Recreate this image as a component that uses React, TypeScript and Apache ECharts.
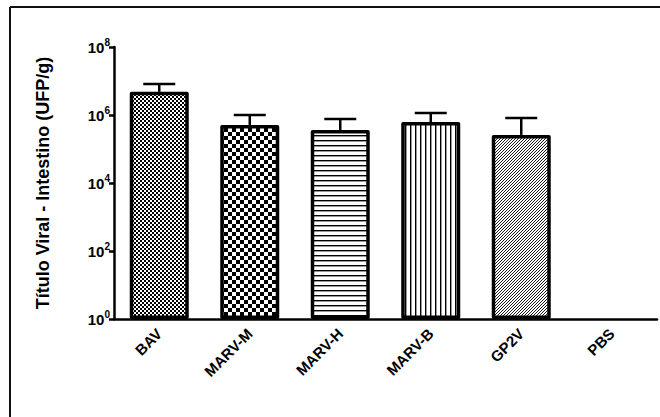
import React, { useEffect, useRef } from "react";
import * as echarts from "echarts";

const categories = ["BAV", "MARV-M", "MARV-H", "MARV-B", "GP2V", "PBS"];
const means: (number | null)[] = [4.8e6, 5.1e5, 3.6e5, 6.2e5, 2.6e5, null];
const upper: (number | null)[] = [8.2e6, 1.0e6, 7.6e5, 1.15e6, 8.1e5, null];
const yMin = 1;
const yMax = 1e8;
const yName = "Título Viral - Intestino (UFP/g)";

const FONT = "Liberation Sans, Arial, sans-serif";

function makePattern(kind: string) {
  const c = document.createElement("canvas");
  let w = 4, h = 4;
  if (kind === "fineCheck") { w = 4; h = 4; }
  if (kind === "check") { w = 8; h = 8; }
  if (kind === "hlines") { w = 4; h = 5; }
  if (kind === "vlines") { w = 5; h = 4; }
  if (kind === "diag") { w = 3; h = 3; }
  c.width = w; c.height = h;
  const g = c.getContext("2d")!;
  g.fillStyle = "#fff";
  g.fillRect(0, 0, w, h);
  g.fillStyle = "#000";
  if (kind === "fineCheck") {
    g.fillRect(0, 0, 2, 2);
    g.fillRect(2, 2, 2, 2);
  } else if (kind === "check") {
    g.fillRect(0, 0, 4, 4);
    g.fillRect(4, 4, 4, 4);
  } else if (kind === "hlines") {
    g.fillRect(0, 0, w, 1.4);
  } else if (kind === "vlines") {
    g.fillRect(0, 0, 1.4, h);
  } else if (kind === "diag") {
    g.strokeStyle = "#000";
    g.lineWidth = 0.9;
    g.beginPath();
    g.moveTo(0, 3); g.lineTo(3, 0);
    g.moveTo(-1, 1); g.lineTo(1, -1);
    g.moveTo(2, 4); g.lineTo(4, 2);
    g.stroke();
  }
  return { image: c.toDataURL(), imageWidth: w, imageHeight: h, repeat: "repeat" };
}

export default function App() {
  const ref = useRef<HTMLDivElement>(null);
  useEffect(() => {
    const chart = echarts.init(ref.current!, null, { renderer: "svg" });
    const kinds = ["fineCheck", "check", "hlines", "vlines", "diag", "diag"];
    const barData = means.map((v, i) => ({
      value: v == null ? "-" : v,
      itemStyle: { color: makePattern(kinds[i]) as any },
    }));
    const errData = categories.map((_, i) => [i, means[i], upper[i]]).filter((d) => d[1] != null);
    const option: any = {
      animation: false,
      grid: { left: 114, top: 47, right: 3, bottom: 98 },
      graphic: [
        { type: "line", shape: { x1: 10, y1: 7, x2: 660, y2: 7 }, style: { stroke: "#111", lineWidth: 2 } },
        { type: "line", shape: { x1: 10, y1: 7, x2: 10, y2: 417 }, style: { stroke: "#111", lineWidth: 2 } },
      ],
      xAxis: {
        type: "category",
        data: categories,
        axisLine: { lineStyle: { color: "#000", width: 2.5 } },
        axisTick: { alignWithLabel: true, length: 6, lineStyle: { color: "#000", width: 2.5 } },
        axisLabel: {
          rotate: 45,
          margin: 12,
          color: "#000",
          fontWeight: "bold",
          fontSize: 15,
          fontFamily: FONT,
          interval: 0,
        },
      },
      yAxis: {
        type: "log",
        logBase: 10,
        min: yMin,
        max: yMax,
        interval: 2,
        name: yName,
        nameLocation: "middle",
        nameGap: 62,
        nameTextStyle: { color: "#000", fontWeight: "bold", fontSize: 18, fontFamily: FONT },
        splitLine: { show: false },
        axisLine: { show: true, lineStyle: { color: "#000", width: 2.5 } },
        axisTick: { show: true, length: 5, lineStyle: { color: "#000", width: 2.5 } },
        axisLabel: {
          margin: 4,
          formatter: (v: number) => `{a|10}{b|${Math.round(Math.log10(v))}}`,
          rich: {
            a: { fontSize: 15, fontWeight: "bold", color: "#000", fontFamily: FONT },
            b: { fontSize: 10, fontWeight: "bold", color: "#000", fontFamily: FONT, padding: [0, 0, 9, 0] },
          },
        },
      },
      series: [
        {
          type: "bar",
          data: barData,
          barWidth: 59,
          itemStyle: { borderColor: "#000", borderWidth: 3.5, borderJoin: "round" },
          z: 2,
        },
        {
          type: "custom",
          data: errData,
          z: 3,
          renderItem: (params: any, api: any) => {
            const x = api.value(0);
            const top = api.coord([x, api.value(1)]);
            const up = api.coord([x, api.value(2)]);
            const half = 16;
            return {
              type: "group",
              children: [
                { type: "line", shape: { x1: top[0], y1: top[1], x2: up[0], y2: up[1] }, style: { stroke: "#000", lineWidth: 2.5 } },
                { type: "line", shape: { x1: up[0] - half, y1: up[1], x2: up[0] + half, y2: up[1] }, style: { stroke: "#000", lineWidth: 2.5 } },
              ],
            };
          },
        },
      ],
    };
    chart.setOption(option);
    return () => chart.dispose();
  }, []);
  return (
    <div
      ref={ref}
      style={{ position: "fixed", left: 0, top: 0, width: 660, height: 417, background: "#fff" }}
    />
  );
}
